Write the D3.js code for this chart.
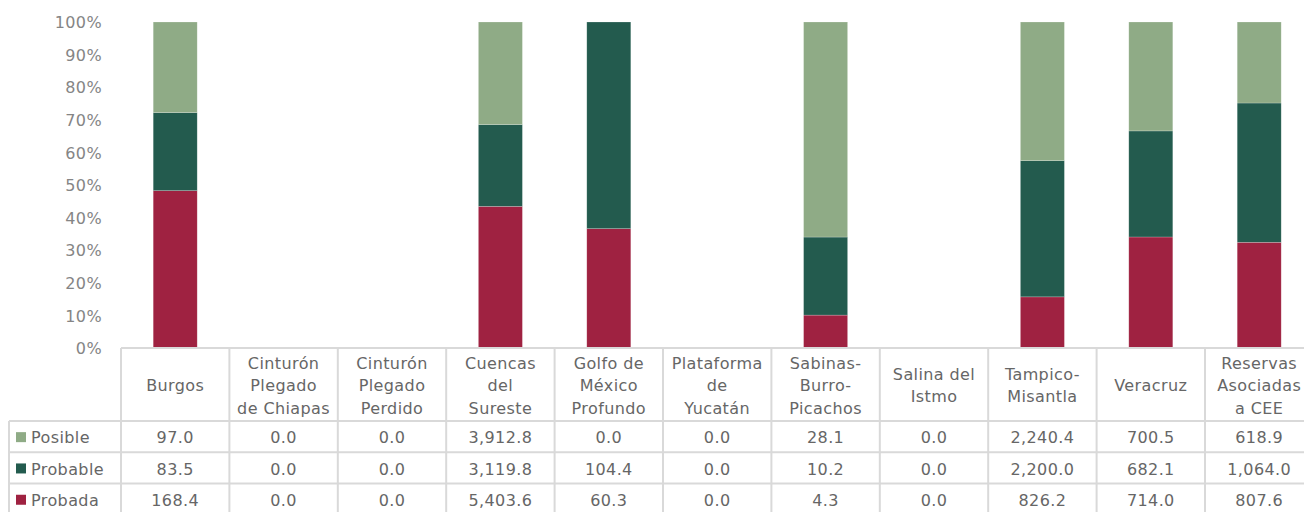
<!DOCTYPE html>
<html>
<head>
<meta charset="utf-8">
<script src="https://cdn.jsdelivr.net/npm/d3@7/dist/d3.min.js"></script>
<style>
  html, body { margin: 0; padding: 0; background: #fff; }
  svg { display: block; }
  text { font-family: "DejaVu Sans", sans-serif; }
</style>
</head>
<body>
<svg id="chart" width="1304" height="512"></svg>
<script>
// Reservas de gas por cuenca (valores absolutos; las barras muestran la participación porcentual)
const categories = [
  "Burgos", "Cinturón Plegado de Chiapas", "Cinturón Plegado Perdido",
  "Cuencas del Sureste", "Golfo de México Profundo", "Plataforma de Yucatán",
  "Sabinas-Burro-Picachos", "Salina del Istmo", "Tampico-Misantla",
  "Veracruz", "Reservas Asociadas a CEE"
];
// Header lines as they wrap in the table
const categoryLines = [
  ["Burgos"], ["Cinturón", "Plegado", "de Chiapas"], ["Cinturón", "Plegado", "Perdido"],
  ["Cuencas", "del", "Sureste"], ["Golfo de", "México", "Profundo"], ["Plataforma", "de", "Yucatán"],
  ["Sabinas-", "Burro-", "Picachos"], ["Salina del", "Istmo"], ["Tampico-", "Misantla"],
  ["Veracruz"], ["Reservas", "Asociadas", "a CEE"]
];
const posible  = [97.0, 0.0, 0.0, 3912.8, 0.0, 0.0, 28.1, 0.0, 2240.4, 700.5, 618.9];
const probable = [83.5, 0.0, 0.0, 3119.8, 104.4, 0.0, 10.2, 0.0, 2200.0, 682.1, 1064.0];
const probada  = [168.4, 0.0, 0.0, 5403.6, 60.3, 0.0, 4.3, 0.0, 826.2, 714.0, 807.6];
const seriesNames = ["Posible", "Probable", "Probada"];
const yTicks = [0, 0.1, 0.2, 0.3, 0.4, 0.5, 0.6, 0.7, 0.8, 0.9, 1.0];

const colors = { Posible: "#8fab86", Probable: "#235b4e", Probada: "#9f2241" };
const seriesValues = { Posible: posible, Probable: probable, Probada: probada };

const svg = d3.select("#chart");
const gridColor = "#d9d9d9";
const textColor = "#666666";

const colW = 108.4;
const left = 121;
const x = d3.scaleBand()
  .domain(categories)
  .range([left, left + colW * categories.length])
  .paddingInner(0.594)
  .paddingOuter(0.297);

const y = d3.scaleLinear().domain([0, 1]).range([348, 22]);

// Stacked shares: Probada at the bottom, then Probable, then Posible
const rows = categories.map((c, i) => {
  const total = posible[i] + probable[i] + probada[i];
  return {
    cat: c,
    Probada: total ? probada[i] / total : 0,
    Probable: total ? probable[i] / total : 0,
    Posible: total ? posible[i] / total : 0
  };
});
const stack = d3.stack().keys(["Probada", "Probable", "Posible"]);
const stacked = stack(rows);

svg.append("g").selectAll("g")
  .data(stacked)
  .join("g")
  .attr("fill", d => colors[d.key])
  .selectAll("rect")
  .data(d => d.filter(p => p[1] - p[0] > 0))
  .join("rect")
  .attr("x", d => x(d.data.cat))
  .attr("width", x.bandwidth())
  .attr("y", d => y(d[1]))
  .attr("height", d => y(d[0]) - y(d[1]))
  .attr("stroke", "#ffffff")
  .attr("stroke-opacity", 0.35)
  .attr("stroke-width", 0.6);

// Y axis (percent ticks, no line)
const yAxis = d3.axisLeft(y).tickValues(yTicks).tickFormat(d3.format(".0%")).tickSize(0).tickPadding(0);
const gy = svg.append("g").attr("transform", "translate(102,0)").call(yAxis);
gy.select(".domain").remove();
gy.selectAll("text")
  .attr("fill", "#858585")
  .style("font-size", "16px")
  .style("font-family", "DejaVu Sans, sans-serif")
  .attr("dy", "0.35em")
  .attr("letter-spacing", "0.4");

// Data table
const tableTop = 348, headerBottom = 421;
const rowH = 31.3;
const rowTops = seriesNames.map((s, i) => headerBottom + i * rowH);
const tableRight = left + colW * categories.length;
const g = svg.append("g");

// horizontal lines
g.append("line").attr("x1", left).attr("x2", tableRight).attr("y1", tableTop).attr("y2", tableTop)
  .attr("stroke", gridColor).attr("stroke-width", 2);
rowTops.forEach(t => {
  g.append("line").attr("x1", 9).attr("x2", tableRight).attr("y1", t).attr("y2", t)
    .attr("stroke", gridColor).attr("stroke-width", 2);
});
// vertical lines
g.append("line").attr("x1", 9).attr("x2", 9).attr("y1", headerBottom).attr("y2", 520)
  .attr("stroke", gridColor).attr("stroke-width", 2);
d3.range(categories.length + 1).forEach(i => {
  const xx = left + i * colW;
  g.append("line").attr("x1", xx).attr("x2", xx).attr("y1", tableTop).attr("y2", 520)
    .attr("stroke", gridColor).attr("stroke-width", 2);
});

// header labels
const lineH = 22.5;
categories.forEach((c, i) => {
  const cx = x(c) + x.bandwidth() / 2;
  const lines = categoryLines[i];
  const cy = (tableTop + headerBottom) / 2 + 1;
  const t = g.append("text")
    .attr("text-anchor", "middle")
    .attr("fill", textColor)
    .style("font-size", "16px")
    .attr("letter-spacing", "0.4");
  lines.forEach((ln, j) => {
    t.append("tspan")
      .attr("x", cx)
      .attr("y", cy + (j - (lines.length - 1) / 2) * lineH)
      .attr("dy", "0.35em")
      .text(ln);
  });
});

// rows: legend key + values
const fmt = d3.format(",.1f");
seriesNames.forEach((s, r) => {
  const cy = rowTops[r] + rowH / 2 + 1;
  g.append("rect").attr("x", 16).attr("y", cy - 5.5).attr("width", 10).attr("height", 10)
    .attr("fill", colors[s]);
  g.append("text").attr("x", 31).attr("y", cy).attr("dy", "0.35em")
    .attr("fill", textColor).style("font-size", "16px").attr("letter-spacing", "0.4")
    .text(s);
  seriesValues[s].forEach((v, i) => {
    g.append("text")
      .attr("x", x(categories[i]) + x.bandwidth() / 2)
      .attr("y", cy).attr("dy", "0.35em")
      .attr("text-anchor", "middle")
      .attr("fill", textColor).style("font-size", "16px").attr("letter-spacing", "0.4")
      .text(fmt(v));
  });
});
</script>
</body>
</html>
